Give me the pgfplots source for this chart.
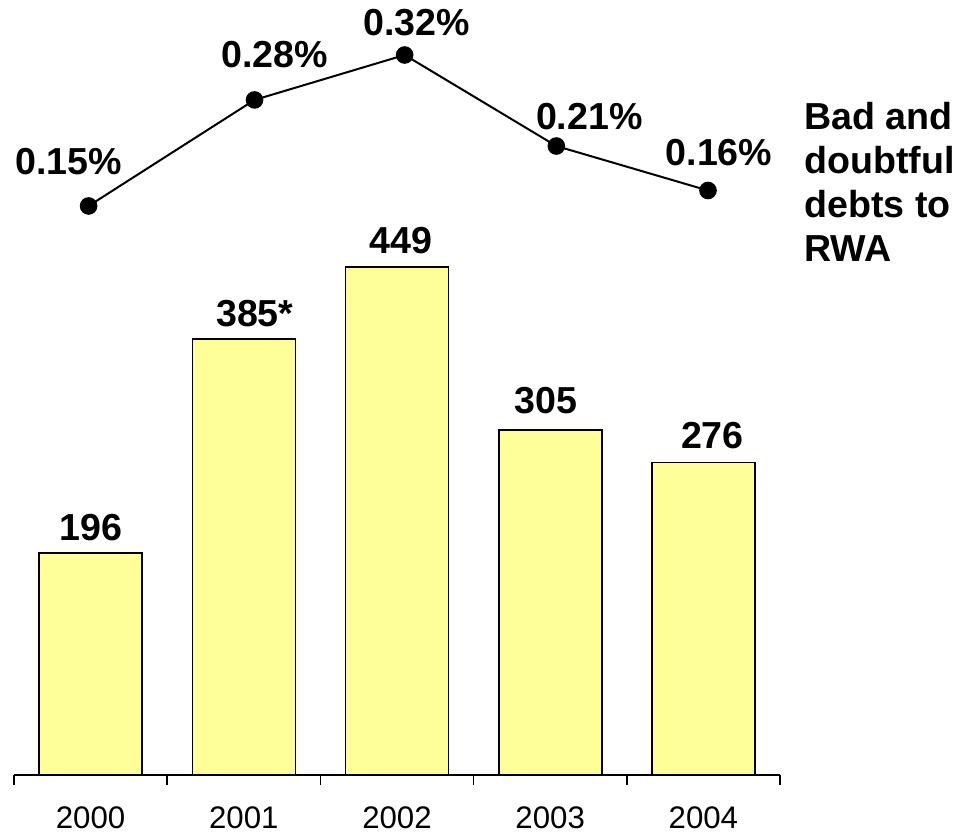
\documentclass[border=0pt]{standalone}
\usepackage{pgfplots}
\pgfplotsset{compat=1.18}
\usepackage{fontspec}
\setmainfont{Liberation Sans}

\definecolor{barfill}{HTML}{FFFF99}

\begin{document}
\begin{tikzpicture}
  % canvas 968x833 px at 0.5pt per px
  \useasboundingbox (0,0) rectangle (484pt,416.5pt);

  % bars: provisions
  \begin{axis}[
      at={(7pt,29pt)}, anchor=south west,
      scale only axis, width=383pt, height=283pt,
      xmin=-0.5, xmax=4.5, ymin=0, ymax=500,
      axis x line=bottom, axis y line=none,
      x axis line style={-, line width=0.75pt},
      xtick={0,1,2,3,4},
      xticklabels={2000,2001,2002,2003,2004},
      major tick length=0pt,
      minor xtick={-0.5,0.5,1.5,2.5,3.5,4.5},
      minor tick length=5pt,
      tick align=outside,
      tick style={black, line width=0.75pt},
      xticklabel style={font=\fontsize{15.6}{18}\selectfont, yshift=-12.5pt},
      clip=false,
    ]
    \addplot[ybar, bar width=51.5pt, fill=barfill, draw=black, line width=0.8pt]
      coordinates {(0,196) (1,385) (2,449) (3,305) (4,276)};
    \begin{scope}[every node/.style={anchor=base, inner sep=0pt,
        font=\fontsize{18.8}{22}\selectfont\bfseries}]
      \node[yshift=6.5pt]               at (axis cs:0,196) {196};
      \node[xshift=5.5pt, yshift=6.5pt] at (axis cs:1,385) {385*};
      \node[xshift=2pt, yshift=6.5pt]   at (axis cs:2,449) {449};
      \node[xshift=-2pt, yshift=8pt]    at (axis cs:3,305) {305};
      \node[xshift=4.5pt, yshift=7pt]   at (axis cs:4,276) {276};
    \end{scope}
  \end{axis}

  % line: bad and doubtful debts to RWA
  \begin{axis}[
      at={(7pt,291.4pt)}, anchor=south west,
      scale only axis, width=383pt, height=111pt,
      xmin=-0.5, xmax=4.5, ymin=0.1, ymax=0.35,
      hide axis, clip=false,
    ]
    \addplot[black, line width=1pt, mark=*, mark size=3.9pt]
      coordinates {
        (-0.013,0.1498)
        (1.07,0.2692)
        (2.05,0.3198)
        (3.04,0.2173)
        (4.03,0.1672)
      };
    \begin{scope}[every node/.style={font=\fontsize{18.8}{22}\selectfont\bfseries}]
      \node[xshift=-10pt, yshift=22pt]   at (axis cs:-0.013,0.1498) {0.15\%};
      \node[xshift=10pt, yshift=22.5pt]  at (axis cs:1.07,0.2692)   {0.28\%};
      \node[xshift=6pt, yshift=16pt]     at (axis cs:2.05,0.3198)   {0.32\%};
      \node[xshift=16.5pt, yshift=14.5pt] at (axis cs:3.04,0.2173)  {0.21\%};
      \node[xshift=5.5pt, yshift=19pt]   at (axis cs:4.03,0.1672)   {0.16\%};
    \end{scope}
  \end{axis}

  % series title on the right
  \begin{scope}[every node/.style={anchor=base west, inner sep=0pt,
      font=\fontsize{18.8}{22}\selectfont\bfseries}]
    \node at (402pt,351.5pt) {Bad and};
    \node at (402pt,329.5pt) {doubtful};
    \node at (402pt,307.5pt) {debts to};
    \node at (402pt,285.5pt) {RWA};
  \end{scope}
\end{tikzpicture}
\end{document}
